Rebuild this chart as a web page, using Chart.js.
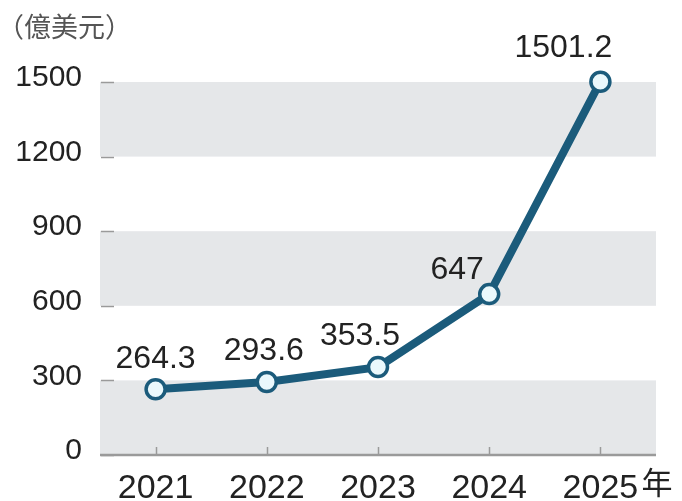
<!DOCTYPE html>
<html>
<head>
<meta charset="utf-8">
<script src="https://cdn.jsdelivr.net/npm/chart.js@4/dist/chart.umd.min.js"></script>
<style>
  html, body { margin: 0; padding: 0; background: #fff; }
  #wrap { width: 682px; height: 501px; }
</style>
</head>
<body>
<div id="wrap"><canvas id="marketChart"></canvas></div>
<script>
// data
const years = ['2021', '2022', '2023', '2024', '2025'];
const values = [264.3, 293.6, 353.5, 647, 1501.2];
const yTicks = [0, 300, 600, 900, 1200, 1500];
const unitLabel = '（億美元）';
const yearSuffix = '年';

// label nudges (px) so the numbers sit like the original
const labelShiftX = [0, -3, -18, -32, -37];
const labelShiftY = [-21, -22, -22, -15, -25];

const lineColor = '#1b5b7b';
const bandColor = '#e5e7e9';
const axisGray = '#9a9a9a';

// =========================
// bands, ticks, labels
// =========================
const decorPlugin = {
    id: 'decor',
    beforeDatasetsDraw(chart) {
        const ctx = chart.ctx;
        const area = chart.chartArea;
        const y = chart.scales.y;
        const x = chart.scales.x;
        ctx.save();
        // alternating grey bands
        ctx.fillStyle = bandColor;
        for (let i = 0; i < yTicks.length - 1; i += 2) {
            const top = y.getPixelForValue(yTicks[i + 1]);
            const bot = y.getPixelForValue(yTicks[i]);
            ctx.fillRect(area.left, top, area.right - area.left, bot - top);
        }
        // small dashes at y ticks
        ctx.strokeStyle = axisGray;
        ctx.lineWidth = 1.5;
        yTicks.forEach(function (v) {
            const py = Math.round(y.getPixelForValue(v)) + 0.5;
            ctx.beginPath();
            ctx.moveTo(area.left + 1, py);
            ctx.lineTo(area.left + 14, py);
            ctx.stroke();
        });
        // bottom axis line
        ctx.lineWidth = 2.5;
        ctx.beginPath();
        ctx.moveTo(area.left, area.bottom);
        ctx.lineTo(area.right, area.bottom);
        ctx.stroke();
        // category ticks pointing up
        ctx.lineWidth = 1.5;
        years.forEach(function (yr, i) {
            const px = Math.round(x.getPixelForValue(i)) + 0.5;
            ctx.beginPath();
            ctx.moveTo(px, area.bottom - 8);
            ctx.lineTo(px, area.bottom);
            ctx.stroke();
        });
        ctx.restore();
    },
    afterDraw(chart) {
        const ctx = chart.ctx;
        const x = chart.scales.x;
        const meta = chart.getDatasetMeta(0);
        ctx.save();
        // value labels
        ctx.fillStyle = '#222';
        ctx.font = '32px "Liberation Sans", Arial, sans-serif';
        ctx.textAlign = 'center';
        ctx.textBaseline = 'alphabetic';
        meta.data.forEach(function (pt, i) {
            ctx.fillText(String(values[i]), pt.x + labelShiftX[i], pt.y + labelShiftY[i]);
        });
        // unit label top-left
        ctx.fillStyle = '#555';
        ctx.textAlign = 'left';
        ctx.font = '27px "Noto Sans CJK TC", sans-serif';
        ctx.fillText(unitLabel, -3, 37);
        // 年 after last year
        ctx.fillStyle = '#222';
        ctx.font = '31px "Noto Sans CJK TC", sans-serif';
        const lastX = x.getPixelForValue(years.length - 1);
        ctx.fillText(yearSuffix, lastX + 41, 494);
        ctx.restore();
    }
};

document.addEventListener("DOMContentLoaded", function () {
    const ctx1 = document.getElementById("marketChart");

    new Chart(ctx1, {
        type: 'line',
        data: {
            labels: years,
            datasets: [{
                data: values,
                borderColor: lineColor,
                borderWidth: 8,
                tension: 0,
                clip: false,
                pointRadius: 9.5,
                pointBorderWidth: 3.5,
                pointBorderColor: lineColor,
                pointBackgroundColor: '#eaf8fc'
            }]
        },
        options: {
            responsive: true,
            maintainAspectRatio: false,
            animation: false,
            layout: {
                padding: { top: 82, right: 26, left: 0, bottom: 0 }
            },
            plugins: {
                legend: { display: false },
                tooltip: { enabled: false }
            },
            scales: {
                x: {
                    type: 'category',
                    offset: true,
                    grid: { display: false },
                    border: { display: false },
                    ticks: {
                        color: '#222',
                        padding: 5,
                        maxRotation: 0,
                        font: { family: '"Liberation Sans", Arial, sans-serif', size: 34 }
                    },
                    afterFit: function (scale) { scale.height = 46; }
                },
                y: {
                    min: 0,
                    max: 1500,
                    afterBuildTicks: function (scale) {
                        scale.ticks = yTicks.map(function (v) { return { value: v }; });
                    },
                    grid: { display: false },
                    border: { display: false },
                    ticks: {
                        color: '#222',
                        padding: 10,
                        labelOffset: -4,
                        callback: function (v) { return String(v); },
                        font: { family: '"Liberation Sans", Arial, sans-serif', size: 30 }
                    },
                    afterFit: function (scale) { scale.width = 100; }
                }
            }
        },
        plugins: [decorPlugin]
    });
});
</script>
</body>
</html>
